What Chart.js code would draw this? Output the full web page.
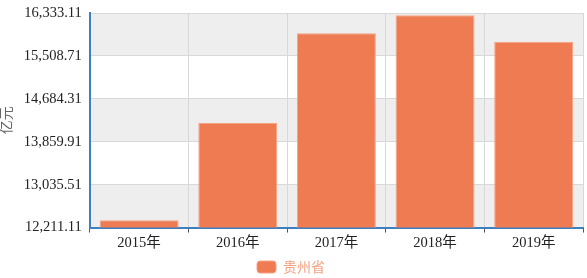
<!DOCTYPE html>
<html>
<head>
<meta charset="utf-8">
<script src="https://cdn.jsdelivr.net/npm/chart.js@4"></script>
<style>
  html, body { margin: 0; padding: 0; background: #fff; }
  #wrap { width: 587px; height: 278px; }
</style>
</head>
<body>
<div id="wrap"><canvas id="c"></canvas></div>
<script>
const years = ['2015年', '2016年', '2017年', '2018年', '2019年'];
const values = [12354, 14220, 15947, 16289, 15781];
const yTicks = [12211.11, 13035.51, 13859.91, 14684.31, 15508.71, 16333.11];
const seriesName = '贵州省';
const unitLabel = '亿元';

function fmt(v) {
    return v.toLocaleString('en-US', { minimumFractionDigits: 2, maximumFractionDigits: 2 });
}

// alternating grey / white bands between y ticks
const bands = {
    id: 'bands',
    beforeDraw(chart) {
        const { ctx, chartArea: a, scales: { y } } = chart;
        ctx.save();
        for (let i = 0; i < yTicks.length - 1; i++) {
            const top = y.getPixelForValue(yTicks[yTicks.length - 1 - i]);
            const bot = y.getPixelForValue(yTicks[yTicks.length - 2 - i]);
            ctx.fillStyle = i % 2 === 0 ? '#eeeeee' : '#ffffff';
            ctx.fillRect(a.left, top, a.right - a.left, bot - top);
        }
        ctx.restore();
    }
};

const serif = "'Liberation Serif', 'Times New Roman', 'Noto Sans CJK SC', serif";

new Chart(document.getElementById('c'), {
    type: 'bar',
    data: {
        labels: years,
        datasets: [{
            label: seriesName,
            data: values,
            backgroundColor: '#ee7b52',
            borderColor: '#f6a283',
            borderWidth: 1,
            barPercentage: 0.8,
            categoryPercentage: 1.0
        }]
    },
    options: {
        responsive: true,
        maintainAspectRatio: false,
        animation: false,
        layout: { padding: { top: 0, right: 4, left: -1, bottom: -6 } },
        scales: {
            x: {
                grid: { color: '#d8d8d8', tickColor: '#555', tickLength: 5, offset: true },
                border: { color: '#3d7fbf', width: 2 },
                ticks: { color: '#222', font: { family: serif, size: 14.5 }, padding: 2 }
            },
            y: {
                min: yTicks[0],
                max: yTicks[yTicks.length - 1],
                afterBuildTicks(scale) { scale.ticks = yTicks.map(v => ({ value: v })); },
                grid: { color: '#d8d8d8', drawTicks: false },
                border: { color: '#3d7fbf', width: 2 },
                ticks: { color: '#222', font: { family: serif, size: 14.5, lineHeight: 0.7 }, padding: 8, callback: v => fmt(v) },
                title: { display: true, text: unitLabel, color: '#666', font: { family: serif, size: 14 }, padding: 0 }
            }
        },
        plugins: {
            legend: {
                position: 'bottom',
                labels: {
                    boxWidth: 19, boxHeight: 12, useBorderRadius: true, borderRadius: 3,
                    color: '#f4a282', font: { family: "'Noto Sans CJK SC', sans-serif", size: 14 },
                    padding: 6
                }
            },
            tooltip: { enabled: false }
        }
    },
    plugins: [bands]
});
</script>
</body>
</html>
